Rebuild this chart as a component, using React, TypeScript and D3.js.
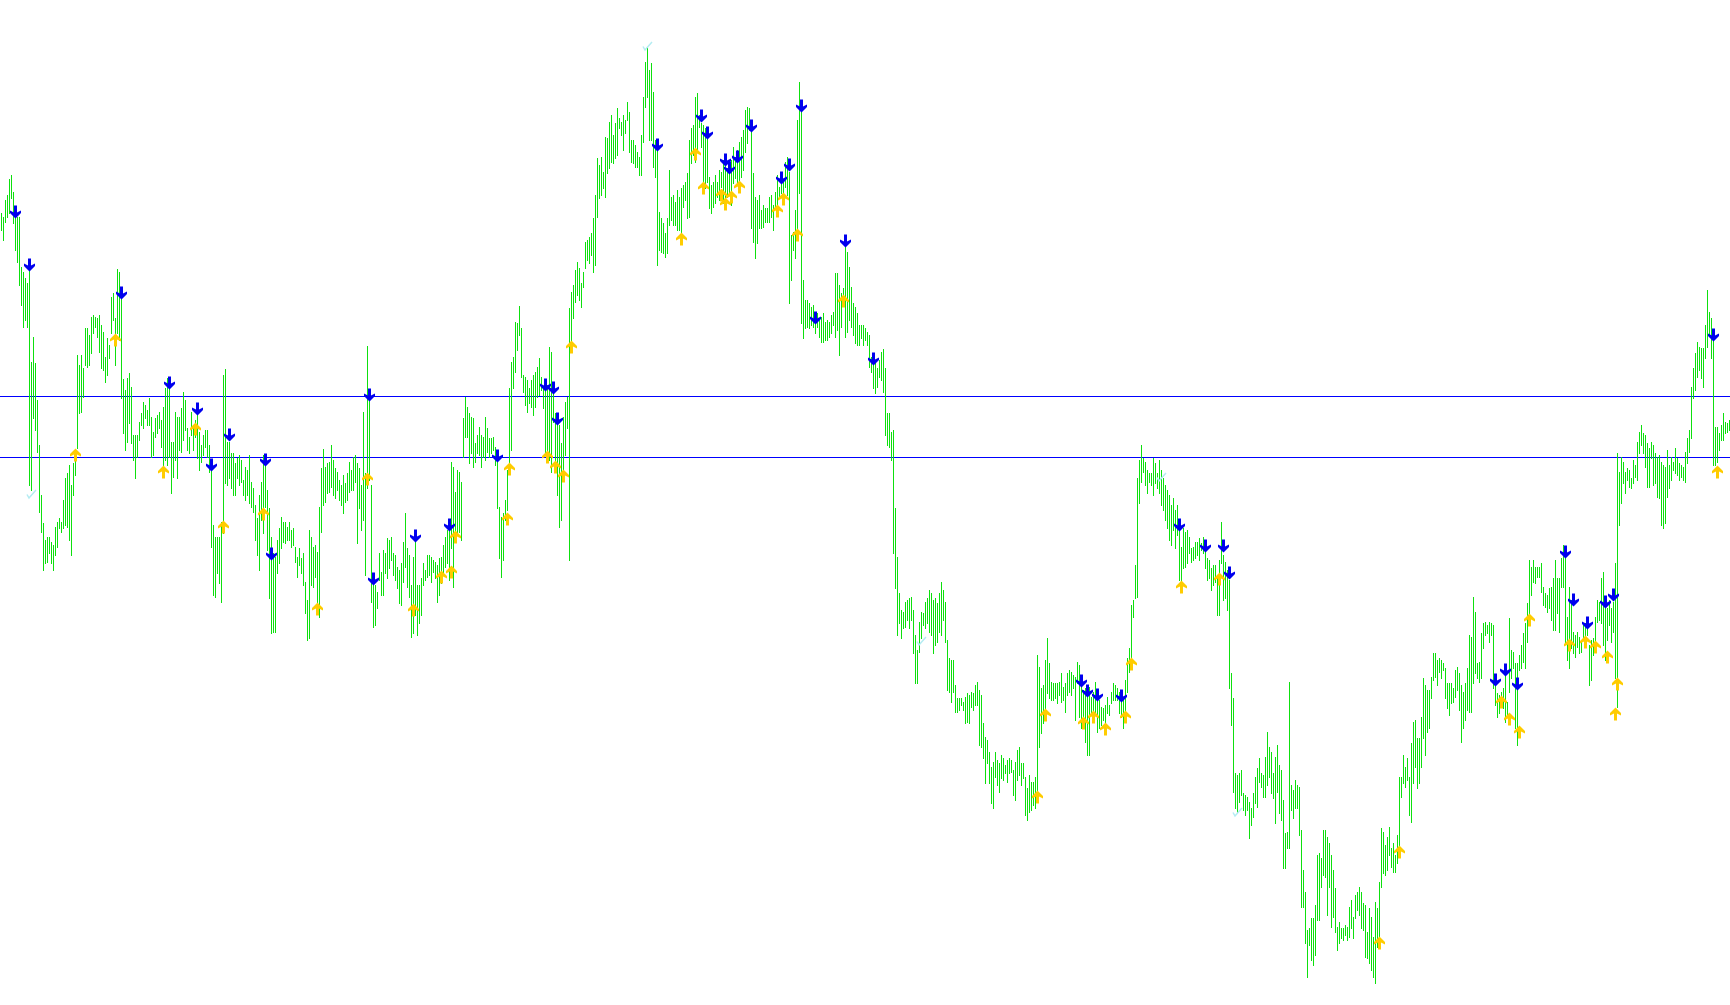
import React from 'react';
import * as d3 from 'd3';

// bar highs / lows, one bar every 2px (price units)
const highs = [
  787,783,800,805,821,825,808,793,783,783, 733,728,722,717,730,638,663,637,600,555,
  505,477,460,463,463,458,455,473,478,482, 478,500,522,527,535,515,537,543,645,635,
  645,632,672,672,665,683,685,683,682,685, 675,668,643,662,655,703,707,682,731,728,
  703,621,610,622,627,613,565,565,565,578, 587,598,595,590,602,583,568,582,585,588,
  580,593,612,622,613,558,558,588,583,583, 592,608,600,572,563,588,575,580,585,568,
  555,565,570,570,555,532,475,463,463,463, 478,625,631,558,558,547,547,537,542,545,
  540,520,533,530,545,518,512,495,482,505, 518,545,535,510,492,463,447,443,460,472,
  483,478,478,473,478,470,472,453,443,452, 442,447,418,400,470,463,453,455,448,493,
  532,551,533,537,538,555,540,532,528,520, 515,525,517,527,538,530,543,545,537,532,
  515,588,527,654,603,515,422,415,408,447, 428,450,447,462,460,463,447,445,433,430,
  437,458,487,452,445,415,443,470,415,415, 422,437,430,445,445,443,440,438,435,442,
  443,455,463,470,472,538,533,508,530,528, 518,582,603,593,587,583,582,557,565,573,
  565,563,583,572,562,562,563,553,540,493, 483,487,500,530,612,638,643,678,677,694,
  672,625,623,620,612,620,625,628,633,642, 623,613,610,615,653,648,608,587,580,575,
  557,583,598,603,692,708,715,730,738,732, 717,728,758,760,763,767,782,805,842,835,
  843,828,863,862,878,885,865,877,892,882, 878,885,880,898,888,860,860,855,848,843,
  865,903,938,953,930,937,908,860,853,788, 782,777,767,782,830,803,805,798,810,803,
  812,815,818,827,860,872,875,903,907,885, 877,875,872,862,823,815,818,825,818,830,
  828,840,840,832,835,840,853,843,850,858, 863,870,890,893,892,870,827,803,800,805,
  790,795,792,792,803,805,795,808,825,813, 827,820,838,843,828,765,768,790,880,918,
  897,720,700,700,697,693,695,680,687,680, 683,687,678,680,678,685,688,727,727,715,
  707,712,760,748,733,713,697,693,687,675, 675,675,672,668,665,643,640,638,632,640,
  648,651,632,587,587,568,570,492,443,407, 390,388,398,400,402,403,390,365,350,378,
  388,387,398,402,410,407,400,402,397,407, 418,410,398,360,342,340,340,315,302,302,
  302,298,303,307,305,308,307,315,318,310, 305,277,263,260,248,233,238,248,240,237,
  245,242,235,240,242,240,230,238,250,253, 237,237,223,212,225,218,218,223,345,333,
  312,315,340,362,337,318,317,317,317,318, 327,313,317,327,330,328,325,323,338,335,
  320,310,312,315,313,303,308,318,303,300, 293,292,295,303,295,308,317,315,312,308,
  305,300,320,342,352,395,400,435,522,540, 555,542,538,530,527,527,542,537,527,540,
  530,522,515,510,505,495,502,490,495,480, 453,472,468,470,463,452,453,458,458,462,
  457,463,448,442,440,432,435,435,425,440, 478,445,438,430,420,327,302,227,225,227,
  230,207,205,203,198,192,207,223,232,242, 227,225,243,268,253,248,227,243,255,235,
  230,200,167,168,318,215,210,220,215,213, 170,130,108,70,72,82,82,95,145,147,
  142,170,170,163,157,145,130,112,73,78, 72,72,75,73,93,100,83,105,108,113,
  108,97,95,68,92,83,63,98,92,118, 172,168,155,163,173,152,157,145,165,223,
  223,245,233,242,223,257,278,280,262,262, 283,322,315,310,310,323,347,347,340,342,
  340,337,332,317,317,317,312,330,333,327, 315,308,317,332,365,363,403,388,337,338,
  367,377,378,375,378,377,375,315,307,305, 308,312,327,298,382,350,348,337,337,345,
  355,367,377,397,440,433,440,433,433,433, 437,413,407,405,412,413,422,440,422,422,
  442,455,443,383,413,400,368,365,368,363, 358,377,377,373,355,360,362,383,400,398,
  422,428,392,392,400,392,398,437,547,528, 543,538,528,532,530,522,540,535,558,568,
  575,567,565,557,552,558,555,547,543,545, 538,535,533,550,535,543,538,552,542,537,
  535,533,548,562,570,613,632,647,658,653, 652,652,675,710,688,682,668,573,573,567,
  575,587,578,577,580,
];

const lows = [
  770,760,778,783,787,802,777,750,738,715, 695,673,680,673,515,510,582,570,548,488,
  468,430,437,438,447,437,430,445,453,472, 468,472,475,473,460,445,505,525,552,587,
  588,603,635,633,635,647,667,673,663,648, 632,630,618,625,642,667,680,635,667,660,
  602,567,550,558,577,557,540,522,543,560, 575,572,582,575,575,543,545,563,567,572,
  553,535,540,535,543,507,523,540,522,550, 548,560,570,550,547,565,550,563,542,530,
  538,545,553,543,528,453,405,403,427,417, 398,467,517,515,522,512,505,505,522,515,
  518,505,500,505,497,493,488,460,445,430, 480,467,493,450,402,367,368,368,427,437,
  452,458,457,460,460,453,455,438,423,435, 427,415,387,360,362,415,413,423,392,383,
  468,495,498,507,508,513,505,502,510,500, 495,487,498,500,508,510,510,518,457,492,
  470,480,425,512,520,398,373,375,392,420, 405,405,427,422,432,440,425,420,412,397,
  395,418,433,413,403,363,367,385,365,377, 385,415,420,423,425,418,428,422,398,405,
  417,428,433,437,420,452,413,465,465,468, 460,543,563,563,537,547,533,538,547,545,
  533,543,540,548,543,547,550,535,492,442, 423,440,480,490,537,550,612,628,650,665,
  623,608,595,588,597,593,585,593,603,605, 610,592,548,547,540,528,578,537,505,473,
  480,525,545,572,440,657,682,698,705,700, 693,713,732,740,737,745,728,735,783,802,
  805,812,803,827,832,838,837,842,845,872, 865,850,867,880,848,838,837,833,833,825,
  825,858,893,903,860,860,833,823,735,750, 748,747,743,747,775,780,775,775,770,770,
  767,793,800,782,783,837,845,838,850,873, 853,815,812,818,792,787,793,797,803,800,
  813,797,803,803,805,795,817,822,817,817, 823,830,848,857,870,772,758,742,757,772,
  772,773,778,778,778,783,770,793,793,803, 807,808,813,805,697,720,750,742,762,807,
  677,662,672,673,672,675,673,667,673,663, 658,658,660,660,663,667,675,663,670,645,
  673,695,663,668,680,673,665,657,655,655, 662,655,660,655,633,628,612,607,613,623,
  620,608,565,555,553,540,447,412,365,377, 362,372,373,380,372,380,347,317,317,348,
  362,375,372,377,368,365,347,355,358,368, 365,380,358,310,308,298,308,288,288,290,
  295,290,277,278,277,293,290,295,295,255, 253,242,217,237,217,197,192,223,215,208,
  222,220,227,218,227,228,205,200,220,225, 215,222,185,180,188,190,195,192,208,253,
  267,277,292,307,302,300,300,302,297,305, 298,300,288,305,308,305,312,280,317,283,
  272,278,258,245,245,287,283,285,268,272, 275,280,278,287,285,297,300,300,300,287,
  283,272,287,308,328,343,383,402,403,497, 518,528,515,507,518,515,505,517,512,507,
  495,490,480,472,460,455,470,452,465,420, 420,432,433,437,447,438,440,442,445,440,
  450,447,432,420,422,410,415,418,385,385, 437,400,402,390,312,275,208,192,188,198,
  205,190,185,190,162,175,183,197,193,218, 213,203,203,215,223,207,202,177,208,187,
  180,132,132,152,152,190,182,192,192,165, 93,93,57,23,55,40,35,45,80,80,
  113,125,123,85,113,73,83,68,50,57, 62,60,65,60,63,72,62,82,90,85,
  72,70,43,42,37,30,23,17,53,60, 113,127,125,130,145,133,128,128,137,150,
  203,217,213,220,185,178,217,233,212,217, 233,262,245,268,272,302,320,323,315,328,
  322,330,302,292,285,297,298,303,310,290, 258,272,280,290,288,288,317,327,322,318,
  322,352,365,367,358,365,312,295,283,287, 295,292,278,285,308,322,332,272,255,330,
  332,338,332,358,387,405,418,417,423,423, 408,395,393,388,392,380,370,370,387,368,
  413,413,358,340,332,352,347,343,353,347, 348,363,353,365,315,320,345,358,378,380,
  377,355,340,360,375,358,368,322,293,475, 497,517,507,520,513,512,517,523,520,547,
  555,547,533,513,513,542,515,517,503,502, 475,472,477,503,512,520,530,527,525,520,
  523,520,518,537,548,562,602,610,623,630, 622,613,642,653,665,642,535,535,538,550,
  560,560,567,568,570,
];

// horizontal levels
const levels = [604, 543];

// sell signals (blue down arrows)
const downBars = [7,14,60,84,98,105,114,132,135,184,186,207,224,248,272,276,278,328,350,353,362,364,368,375,390,394,400,407,422,436,540,543,548,560,589,602,611,614,747,752,758,782,786,793,802,806,856];
const downPrices = [788,735,707,617,591,535,565,540,446,605,421,464,475,544,615,612,581,855,884,867,840,832,843,874,822,835,894,682,759,641,319,309,305,304,475,454,454,427,320,330,316,448,400,377,398,405,665];

// buy signals (gold up arrows)
const upBars = [37,57,81,97,111,131,158,183,206,220,225,227,253,254,273,277,281,285,340,347,351,360,362,365,369,388,391,398,421,518,522,541,546,552,562,565,590,609,689,699,750,754,759,764,784,792,797,803,807,808,858];
const upPrices = [545,660,528,571,473,486,391,521,390,423,428,463,481,531,543,533,524,653,761,846,812,805,796,803,813,789,801,765,699,203,285,277,283,271,283,336,413,421,57,148,298,281,268,380,355,358,353,343,286,316,528];

// small cyan marks
const checkBars = [15, 323, 460, 580, 618];
const checkPrices = [506, 954, 359, 523, 188];

const W = 1730;
const H = 1005;

const downPath = 'M-1.5,-6.5 H1.5 V0.5 L5.5,-1.5 V1 L0,6.5 L-5.5,1 V-1.5 L-1.5,0.5 Z';

const App: React.FC = () => {
  const x = d3.scaleLinear().domain([0, 1]).range([1.5, 3.5]);
  const y = d3.scaleLinear().domain([0, 1000]).range([1000, 0]);
  const n = Math.min(highs.length, lows.length);

  return (
    <svg
      width={W}
      height={H}
      style={{ position: 'absolute', left: 0, top: 0, display: 'block', background: '#ffffff' }}
    >
      <rect width={W} height={H} fill="#ffffff" />
      <g shapeRendering="crispEdges">
        {levels.map((p, i) => (
          <line key={i} x1={0} x2={W} y1={y(p) + 0.5} y2={y(p) + 0.5} stroke="#0000ff" strokeWidth={1} />
        ))}
        {d3.range(n).map(i => (
          <line
            key={i}
            x1={x(i)}
            x2={x(i)}
            y1={y(highs[i])}
            y2={y(lows[i]) + 1}
            stroke="#0ee00e"
            strokeWidth={1}
          />
        ))}
      </g>
      {checkBars.map((b, i) => (
        <path
          key={i}
          transform={`translate(${x(b)},${y(checkPrices[i])})`}
          d="M-4.5,0.5 L-2.5,4 L4.5,-4"
          fill="none"
          stroke="#b4ecf2"
          strokeWidth={1.5}
        />
      ))}
      {downBars.map((b, i) => (
        <path key={i} transform={`translate(${x(b)},${y(downPrices[i])})`} d={downPath} fill="#0000ee" />
      ))}
      {upBars.map((b, i) => (
        <path key={i} transform={`translate(${x(b)},${y(upPrices[i])}) scale(1,-1)`} d={downPath} fill="#ffcc00" />
      ))}
    </svg>
  );
};

export default App;
